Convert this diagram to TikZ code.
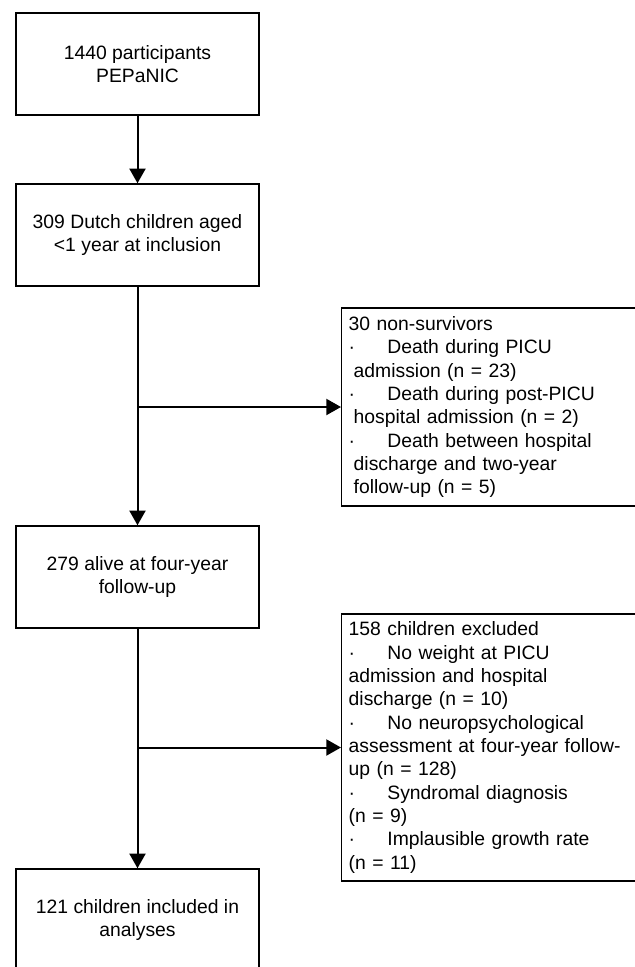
\documentclass[tikz,border=0pt]{standalone}
\usepackage{fontspec}
\setmainfont{Liberation Sans}
\usetikzlibrary{arrows.meta}

\newcommand{\bul}{\makebox[29pt][l]{·}}

\begin{document}
\begin{tikzpicture}[x=0.75pt, y=-0.75pt,
		box/.style={draw, line width=1.1pt, minimum width=182.25pt, minimum height=76.5pt, align=center, inner sep=0pt},
		sidebox/.style={draw, line width=1.1pt, anchor=west, align=left, text width=230pt, inner xsep=5.25pt, inner ysep=0pt},
		arr/.style={line width=1.5pt, -{Triangle[length=11pt, width=12pt]}},
		font=\fontsize{14.5pt}{17.5pt}\selectfont]
			\useasboundingbox (0,0) rectangle (635,967);
			\clip (0,0) rectangle (635,967);
			
			\node[box] (b1) at (137.5,64) {1440 participants\\PEPaNIC};
			\node[box] (b2) at (137.5,235) {309 Dutch children aged\\<1 year at inclusion};
			\node[box] (b3) at (137.5,577) {279 alive at four-year\\follow-up};
			\node[box] (b4) at (137.5,920) {121 children included in\\analyses};
			
			\node[sidebox, minimum height=148.5pt] (s1) at (341,407) {30 non-survivors\\
				\bul Death during PICU\\
				\hspace*{3.75pt}admission (n = 23)\\
				\bul Death during post-PICU\\
				\hspace*{3.75pt}hospital admission (n = 2)\\
				\bul Death between hospital\\
				\hspace*{3.75pt}discharge and two-year\\
				\hspace*{3.75pt}follow-up (n = 5)};
			\node[sidebox, minimum height=200.25pt] (s2) at (341,747.5) {158 children excluded\\
				\bul No weight at PICU\\
				admission and hospital\\
				discharge (n = 10)\\
				\bul No neuropsychological\\
				assessment at four-year follow-\\
				up (n = 128)\\
				\bul Syndromal diagnosis\\
				(n = 9)\\
				\bul Implausible growth rate\\
				(n = 11)};
			
			\draw[arr] (b1) -- (b2);
			\draw[arr] (b2) -- (b3);
			\draw[arr] (b2.south |- s1.west) -- (s1.west);
			\draw[arr] (b3) -- (b4);
			\draw[arr] (b3.south |- s2.west) -- (s2.west);
		\end{tikzpicture}
\end{document}
